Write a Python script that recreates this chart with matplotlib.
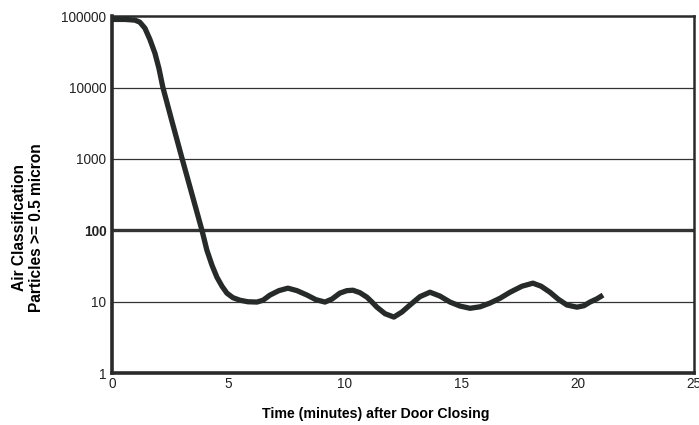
import numpy as np
import matplotlib
matplotlib.use('Agg')
import matplotlib.pyplot as plt
from matplotlib.ticker import FixedLocator, NullLocator

# readings: minutes after door closing, particle count
time_min = [0.0, 0.56, 0.99, 1.20, 1.42, 1.63, 1.85, 2.02, 2.19, 2.58, 3.01,
            3.44, 3.87, 4.08, 4.30, 4.51, 4.73, 4.94, 5.20, 5.50, 5.84,
            6.23, 6.49, 6.79, 7.17, 7.56, 7.95, 8.38, 8.76, 9.15, 9.45,
            9.79, 10.09, 10.35, 10.65, 10.95, 11.17, 11.38, 11.73, 12.11, 12.46,
            12.80, 13.23, 13.66, 14.09, 14.52, 14.95, 15.38, 15.81, 16.24, 16.67,
            17.10, 17.61, 18.08, 18.43, 18.81, 19.16, 19.54, 19.97, 20.27, 20.53,
            20.83, 21.09]
particles = [90000, 90000, 88000, 82400, 67900, 47600, 30300, 18700, 10100, 3380, 1030,
             321, 100, 52.8, 32.5, 22.1, 16.5, 13.2, 11.4, 10.5, 10.0,
             9.9, 10.5, 12.4, 14.3, 15.5, 14.3, 12.4, 10.7, 9.9, 10.9,
             13.2, 14.3, 14.5, 13.4, 11.6, 9.9, 8.4, 6.8, 6.1, 7.2,
             9.0, 11.8, 13.6, 12.0, 9.9, 8.7, 8.1, 8.5, 9.6, 11.2,
             13.6, 16.5, 18.2, 16.5, 13.6, 10.9, 9.0, 8.4, 8.8, 9.9,
             11.0, 12.4]

y_ticks = [1, 10, 100, 1000, 10000, 100000]
x_ticks = [0, 5, 10, 15, 20, 25]

plt.rcParams['font.family'] = ['Liberation Sans', 'DejaVu Sans']

fig = plt.figure(figsize=(6.99, 4.25), dpi=100)
ax = fig.add_axes([0.160, 0.122, 0.833, 0.840])

# grid lines, the 100 line is drawn heavier
for v in y_ticks[1:-1]:
    lw = 2.4 if v == 100 else 0.9
    ax.axhline(v, color='#333333', lw=lw, zorder=1)

ax.plot(time_min, particles, color='#262b2a', lw=3.8, solid_capstyle='butt',
        solid_joinstyle='round', zorder=3)

ax.set_yscale('log')
ax.set_ylim(1, 100000)
ax.set_xlim(0, 25)
ax.yaxis.set_major_locator(FixedLocator(y_ticks))
ax.yaxis.set_minor_locator(NullLocator())
ax.set_yticklabels([str(v) for v in y_ticks])
ax.set_xticks(x_ticks)
ax.tick_params(length=0, labelsize=9.8, colors='#222222', pad=4)
ax.tick_params(axis='x', pad=3)
for lab in ax.get_yticklabels():
    if lab.get_text() == '100':
        lab.set_fontweight('bold')

for side in ['left', 'bottom']:
    ax.spines[side].set_linewidth(2.6)
for side in ['top', 'right']:
    ax.spines[side].set_linewidth(1.8)
for s in ax.spines.values():
    s.set_color('#2a2a2a')

fig.text(0.040, 0.465, 'Air Classification\nParticles >= 0.5 micron', rotation=90,
         ha='center', va='center', fontsize=11.2, fontweight='bold', linespacing=1.1)
fig.text(0.537, 0.027, 'Time (minutes) after Door Closing', ha='center', va='center',
         fontsize=10.2, fontweight='bold')

fig.savefig('out.png', dpi=100)
